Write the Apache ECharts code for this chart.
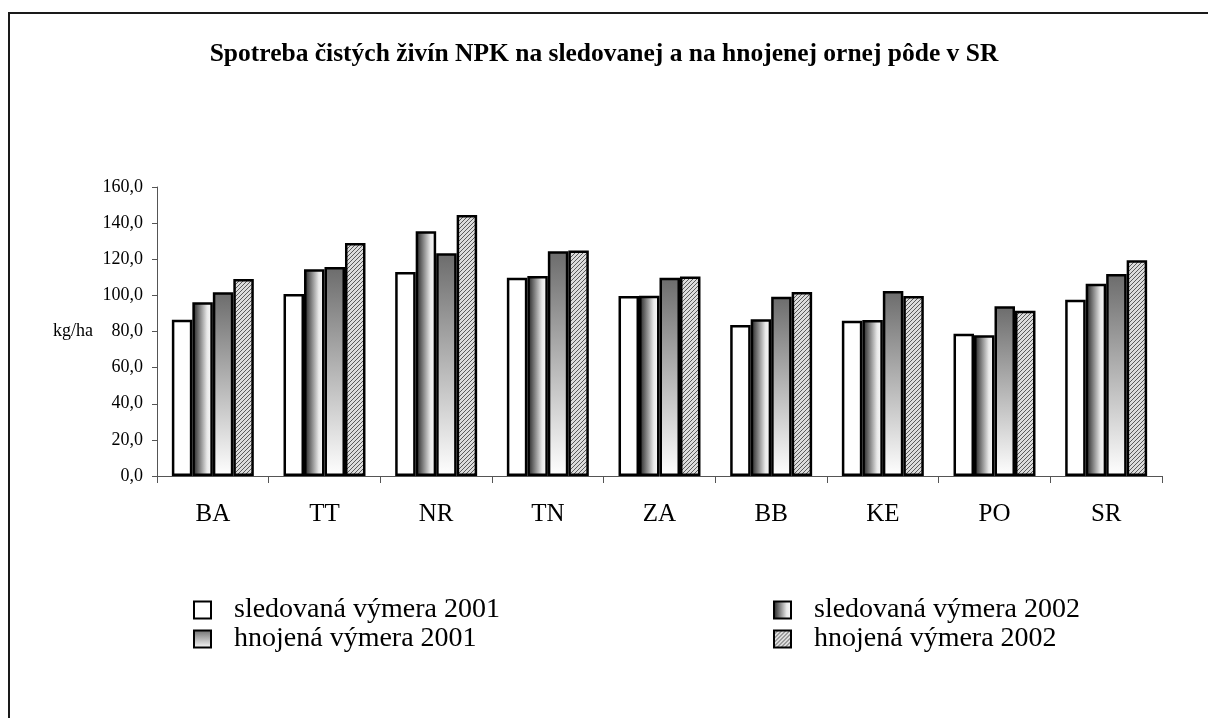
<!DOCTYPE html>
<html>
<head>
<meta charset="utf-8">
<script src="https://cdn.jsdelivr.net/npm/echarts@6/dist/echarts.min.js"></script>
<style>
  html, body { margin: 0; padding: 0; background: #fff; }
  #myChart { width: 1208px; height: 718px; }
</style>
</head>
<body>
<div id="myChart"></div>
<script>
// data
let categories = ['BA', 'TT', 'NR', 'TN', 'ZA', 'BB', 'KE', 'PO', 'SR']
let sledovana2001 = [86.5, 100.8, 113.0, 109.8, 99.7, 83.6, 86.0, 78.8, 97.6]
let sledovana2002 = [96.2, 114.4, 135.5, 110.7, 99.8, 86.8, 86.4, 77.9, 106.5]
let hnojena2001 = [101.7, 115.7, 123.3, 124.4, 109.8, 99.3, 102.4, 94.0, 111.8]
let hnojena2002 = [109.1, 129.0, 144.5, 124.8, 110.4, 101.9, 99.7, 91.5, 119.4]
let seriesNames = ['sledovaná výmera 2001', 'sledovaná výmera 2002', 'hnojená výmera 2001', 'hnojená výmera 2002']

const FONT = '"Liberation Serif", "Times New Roman", serif'

// hatch pattern
function makeHatch () {
  let c = document.createElement('canvas')
  c.width = 4
  c.height = 4
  let ctx = c.getContext('2d')
  ctx.fillStyle = '#dcdcdc'
  ctx.fillRect(0, 0, 4, 4)
  ctx.strokeStyle = '#5a5a5a'
  ctx.lineWidth = 1
  ctx.beginPath()
  ctx.moveTo(-1, 5)
  ctx.lineTo(5, -1)
  ctx.moveTo(-1, 1)
  ctx.lineTo(1, -1)
  ctx.moveTo(3, 5)
  ctx.lineTo(5, 3)
  ctx.stroke()
  return c
}

let fills = [
  '#ffffff',
  new echarts.graphic.LinearGradient(0, 0, 1, 0, [
    { offset: 0, color: '#1a1a1a' },
    { offset: 0.35, color: '#7e7e7e' },
    { offset: 0.72, color: '#e8e8e8' },
    { offset: 1, color: '#ffffff' }
  ]),
  new echarts.graphic.LinearGradient(0, 0, 0, 1, [
    { offset: 0, color: '#6c6c6c' },
    { offset: 1, color: '#ffffff' }
  ]),
  { image: makeHatch(), repeat: 'repeat' }
]

let seriesData = [sledovana2001, sledovana2002, hnojena2001, hnojena2002]

let legendText = {
  fontFamily: FONT,
  fontSize: 28,
  color: '#000',
  lineHeight: 22,
  padding: [0, 0, 0, 18]
}

let option = {
  backgroundColor: '#fff',
  animation: false,
  title: {
    text: 'Spotreba čistých živín NPK na sledovanej a na hnojenej ornej pôde v SR',
    left: 'center',
    top: 36,
    textStyle: {
      fontFamily: FONT,
      fontSize: 25.5,
      fontWeight: 'bold',
      color: '#000'
    }
  },
  legend: [
    {
      data: [seriesNames[0], seriesNames[2]],
      orient: 'vertical',
      left: 193,
      top: 596,
      padding: 0,
      itemWidth: 17,
      itemHeight: 17,
      itemGap: 1,
      icon: 'rect',
      textStyle: legendText
    },
    {
      data: [seriesNames[1], seriesNames[3]],
      orient: 'vertical',
      left: 773,
      top: 596,
      padding: 0,
      itemWidth: 17,
      itemHeight: 17,
      itemGap: 1,
      icon: 'rect',
      textStyle: legendText
    }
  ],
  grid: {
    left: 157,
    right: 46,
    top: 187,
    bottom: 242
  },
  xAxis: {
    type: 'category',
    data: categories,
    axisLine: { lineStyle: { color: '#555', width: 1 } },
    axisTick: { show: true, length: 7, lineStyle: { color: '#555' } },
    axisLabel: {
      margin: 26,
      fontFamily: FONT,
      fontSize: 25,
      color: '#000'
    }
  },
  yAxis: {
    type: 'value',
    min: 0,
    max: 160,
    interval: 20,
    name: 'kg/ha',
    nameLocation: 'middle',
    nameRotate: 0,
    nameGap: 64,
    nameTextStyle: {
      fontFamily: FONT,
      fontSize: 18,
      color: '#000'
    },
    splitLine: { show: false },
    axisLine: { show: true, lineStyle: { color: '#555', width: 1 } },
    axisTick: { show: true, length: 5, lineStyle: { color: '#555' } },
    axisLabel: {
      margin: 14,
      fontFamily: FONT,
      fontSize: 18,
      color: '#000',
      formatter: function (v) {
        return v.toFixed(1).replace('.', ',')
      }
    }
  },
  graphic: [
    {
      type: 'polyline',
      shape: { points: [[9, 718], [9, 13], [1208, 13]] },
      style: { stroke: '#1a1a1a', lineWidth: 2, fill: null }
    }
  ],
  series: seriesNames.map(function (name, i) {
    return {
      name: name,
      type: 'bar',
      data: seriesData[i],
      barGap: '0%',
      barCategoryGap: '26.6%',
      itemStyle: {
        color: fills[i],
        borderColor: '#000',
        borderWidth: 2.5
      }
    }
  })
}

let myChart = echarts.init(document.getElementById('myChart'))
myChart.setOption(option)
</script>
</body>
</html>
